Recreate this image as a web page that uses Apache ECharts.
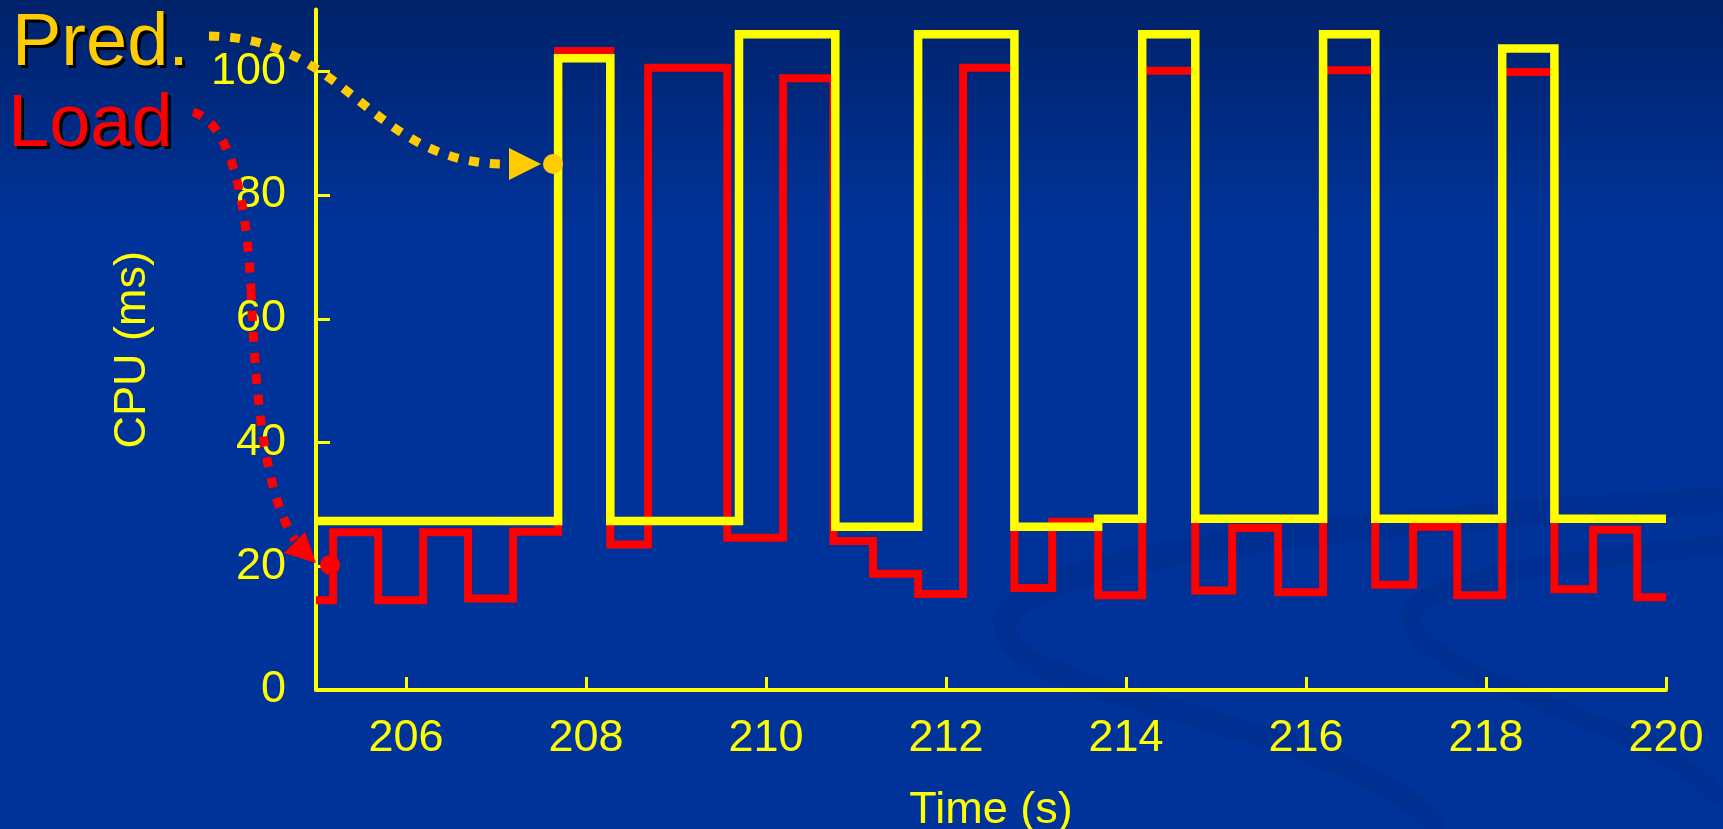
<!DOCTYPE html>
<html>
<head>
<meta charset="utf-8">
<script src="https://cdn.jsdelivr.net/npm/echarts@6/dist/echarts.min.js"></script>
<style>
  html, body { margin: 0; padding: 0; background: #003399; }
  #chart { width: 1723px; height: 829px; }
</style>
</head>
<body>
<div id="chart"></div>
<script>
// ---- Data ----
const xTicks = [206, 208, 210, 212, 214, 216, 218, 220];
const yTicks = [0, 20, 40, 60, 80, 100];

// Pred. series: value holds from each time until the next time (step 'end')
const predTime = [205, 207.69, 208.27, 209.70, 210.77, 211.69, 212.76, 213.69, 214.18, 214.77, 216.19, 216.77, 218.18, 218.76, 220];
const predCpu  = [27.3, 102.1, 27.3, 106, 26.4, 106, 26.4, 27.7, 106, 27.7, 106, 27.7, 103.7, 27.7, 27.7];

// Load series
const loadTime = [205, 205.19, 205.69, 206.19, 206.69, 207.19, 207.69, 208.27, 208.69, 209.57, 210.19, 210.75, 211.19, 211.69, 212.19, 212.76, 213.18, 213.69, 214.18, 214.77, 215.18, 215.69, 216.19, 216.77, 217.19, 217.68, 218.18, 218.76, 219.19, 219.68, 220];
const loadCpu  = [14.5, 25.5, 14.5, 25.5, 14.8, 25.6, 103.3, 23.5, 100.6, 24.6, 98.9, 24.1, 18.8, 15.5, 100.6, 16.5, 27.2, 15.3, 100.1, 16.1, 26.2, 15.8, 100.2, 17.0, 26.4, 15.3, 99.9, 16.3, 25.9, 15.0, 15.0];

const xName = 'Time (s)';
const yName = 'CPU (ms)';
const predLabel = 'Pred.';
const loadLabel = 'Load';

// ---- Styles ----
const YELLOW = '#FFFF00';
const RED = '#FF0000';
const GOLD = '#FFCC00';
const FONT = '"Liberation Sans", Arial, sans-serif';

const chart = echarts.init(document.getElementById('chart'), null, { renderer: 'canvas' });

function zip(a, b) { return a.map((v, i) => [v, b[i]]); }

const swirl = 'rgba(0, 38, 128, 0.28)';

const option = {
  animation: false,
  backgroundColor: {
    type: 'linear', x: 0, y: 0, x2: 0, y2: 1,
    colorStops: [
      { offset: 0, color: '#00226a' },
      { offset: 0.28, color: '#003399' },
      { offset: 1, color: '#003399' }
    ]
  },
  grid: { left: 316, right: 57, top: 9.5, bottom: 139, containLabel: false, outerBoundsMode: 'none' },
  xAxis: {
    type: 'value',
    min: 205, max: 220,
    name: xName,
    nameLocation: 'middle',
    nameGap: 98,
    nameTextStyle: { color: YELLOW, fontSize: 45, fontFamily: FONT },
    axisLine: { show: true, onZero: false, lineStyle: { color: YELLOW, width: 4 } },
    axisTick: { show: true, inside: true, length: 13, customValues: xTicks, lineStyle: { color: YELLOW, width: 3 } },
    axisLabel: { show: true, customValues: xTicks, color: YELLOW, fontSize: 45, fontFamily: FONT, margin: 26 },
    splitLine: { show: false }
  },
  yAxis: {
    type: 'value',
    min: 0, max: 110,
    name: yName,
    nameLocation: 'middle',
    nameGap: 161,
    nameRotate: 90,
    nameTextStyle: { color: YELLOW, fontSize: 45, fontFamily: FONT },
    axisLine: { show: true, onZero: false, lineStyle: { color: YELLOW, width: 4 } },
    axisTick: { show: true, inside: true, length: 14, customValues: yTicks, lineStyle: { color: YELLOW, width: 3 } },
    axisLabel: { show: true, customValues: yTicks, color: YELLOW, fontSize: 45, fontFamily: FONT, margin: 30 },
    splitLine: { show: false }
  },
  series: [
    {
      name: 'Load', type: 'line', step: 'end', showSymbol: false, silent: true,
      data: zip(loadTime, loadCpu),
      lineStyle: { color: RED, width: 8, join: 'miter', cap: 'butt' },
      z: 2
    },
    {
      name: 'Pred.', type: 'line', step: 'end', showSymbol: false, silent: true,
      data: zip(predTime, predCpu),
      lineStyle: { color: YELLOW, width: 8.5, join: 'miter', cap: 'butt' },
      z: 3
    }
  ],
  graphic: [
    // faint background swirls
    { type: 'bezierCurve', silent: true, z: -10, shape: { x1: 1005, y1: 625, cpx1: 1010, cpy1: 560, cpx2: 1300, cpy2: 525, x2: 1723, y2: 500 }, style: { stroke: swirl, lineWidth: 26, fill: null } },
    { type: 'bezierCurve', silent: true, z: -10, shape: { x1: 1005, y1: 625, cpx1: 1000, cpy1: 700, cpx2: 1350, cpy2: 720, x2: 1440, y2: 829 }, style: { stroke: swirl, lineWidth: 22, fill: null } },
    { type: 'bezierCurve', silent: true, z: -10, shape: { x1: 1410, y1: 615, cpx1: 1420, cpy1: 580, cpx2: 1560, cpy2: 560, x2: 1723, y2: 545 }, style: { stroke: swirl, lineWidth: 20, fill: null } },
    { type: 'bezierCurve', silent: true, z: -10, shape: { x1: 1410, y1: 615, cpx1: 1410, cpy1: 680, cpx2: 1660, cpy2: 720, x2: 1720, y2: 800 }, style: { stroke: swirl, lineWidth: 18, fill: null } },

    // Pred. label with shadow
    { type: 'text', z: 10, x: 15, y: 11, style: { text: predLabel, fill: '#000000', font: '74px ' + FONT } },
    { type: 'text', z: 11, x: 12, y: 8, style: { text: predLabel, fill: GOLD, font: '74px ' + FONT } },
    // Load label with shadow
    { type: 'text', z: 10, x: 11, y: 92, style: { text: loadLabel, fill: '#000000', font: '74px ' + FONT } },
    { type: 'text', z: 11, x: 8, y: 89, style: { text: loadLabel, fill: RED, font: '74px ' + FONT } },

    // Pred. dotted arrow
    { type: 'bezierCurve', z: 12, silent: true,
      shape: { x1: 209, y1: 36, cpx1: 350, cpy1: 38, cpx2: 370, cpy2: 165, x2: 507, y2: 164 },
      style: { stroke: GOLD, lineWidth: 9, lineDash: [10, 11], fill: null } },
    { type: 'polygon', z: 12, silent: true, shape: { points: [[509, 148], [541, 164], [509, 180]] }, style: { fill: GOLD } },
    { type: 'circle', z: 13, silent: true, shape: { cx: 553, cy: 164, r: 10 }, style: { fill: GOLD } },

    // Load dotted arrow
    { type: 'bezierCurve', z: 12, silent: true,
      shape: { x1: 193, y1: 112, cpx1: 228, cpy1: 122, cpx2: 246, cpy2: 190, x2: 251, y2: 290 },
      style: { stroke: RED, lineWidth: 9, lineDash: [10, 11], fill: null } },
    { type: 'bezierCurve', z: 12, silent: true,
      shape: { x1: 251, y1: 290, cpx1: 255, cpy1: 380, cpx2: 262, cpy2: 490, x2: 295, y2: 540 },
      style: { stroke: RED, lineWidth: 9, lineDash: [10, 11], fill: null } },
    { type: 'polygon', z: 12, silent: true, shape: { points: [[284, 553], [305, 532], [316, 563]] }, style: { fill: RED } },
    { type: 'circle', z: 13, silent: true, shape: { cx: 330, cy: 565, r: 10 }, style: { fill: RED } }
  ]
};

chart.setOption(option);
</script>
</body>
</html>
